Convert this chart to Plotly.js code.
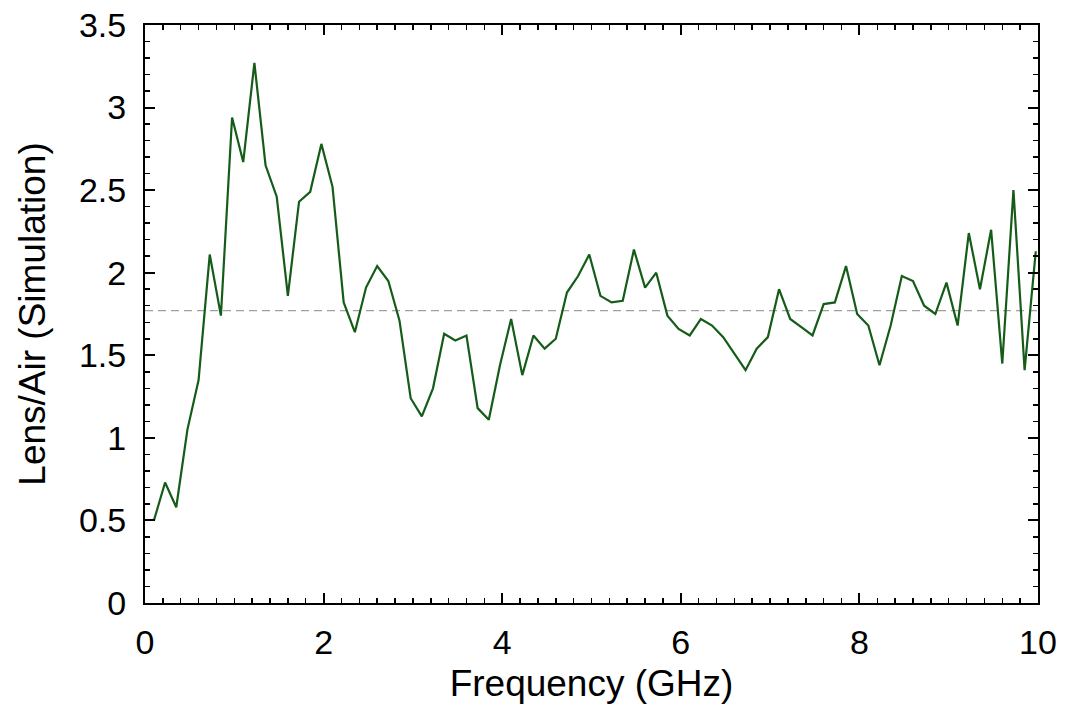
<!DOCTYPE html>
<html>
<head>
<meta charset="utf-8">
<script src="https://cdn.plot.ly/plotly-3.0.1.min.js"></script>
<style>html,body{margin:0;padding:0;background:#fff;}#chart{width:1075px;height:725px;}</style>
</head>
<body>
<div id="chart"></div>
<script>
const frequencyGHz = [
  0.1, 0.225, 0.35, 0.475, 0.6, 0.725, 0.85, 0.975, 1.1, 1.225,
  1.35, 1.475, 1.6, 1.725, 1.85, 1.975, 2.1, 2.225, 2.35, 2.475,
  2.6, 2.725, 2.85, 2.975, 3.1, 3.225, 3.35, 3.475, 3.6, 3.725,
  3.85, 3.975, 4.1, 4.225, 4.35, 4.475, 4.6, 4.725, 4.85, 4.975,
  5.1, 5.225, 5.35, 5.475, 5.6, 5.725, 5.85, 5.975, 6.1, 6.225,
  6.35, 6.475, 6.6, 6.725, 6.85, 6.975, 7.1, 7.225, 7.35, 7.475,
  7.6, 7.725, 7.85, 7.975, 8.1, 8.225, 8.35, 8.475, 8.6, 8.725,
  8.85, 8.975, 9.1, 9.225, 9.35, 9.475, 9.6, 9.725, 9.85, 9.975
];
const lensAirRatio = [
  0.50, 0.73, 0.58, 1.05, 1.35, 2.11, 1.74, 2.94, 2.67, 3.27,
  2.65, 2.46, 1.86, 2.43, 2.49, 2.78, 2.52, 1.82, 1.64, 1.91,
  2.04, 1.95, 1.71, 1.24, 1.13, 1.30, 1.63, 1.59, 1.62, 1.18,
  1.11, 1.44, 1.72, 1.38, 1.62, 1.54, 1.60, 1.88, 1.98, 2.11,
  1.86, 1.82, 1.83, 2.14, 1.91, 2.00, 1.74, 1.66, 1.62, 1.72,
  1.68, 1.61, 1.51, 1.41, 1.54, 1.61, 1.90, 1.72, 1.67, 1.62,
  1.81, 1.82, 2.04, 1.75, 1.68, 1.44, 1.68, 1.98, 1.95, 1.80,
  1.75, 1.94, 1.68, 2.24, 1.90, 2.26, 1.45, 2.50, 1.41, 2.13
];
const referenceLevel = 1.77;
const xRange = [0, 10];
const yRange = [0, 3.5];
const xTickVals = [0, 2, 4, 6, 8, 10];
const yTickVals = [0, 0.5, 1, 1.5, 2, 2.5, 3, 3.5];
const yTickText = ['0', '0.5', '1', '1.5', '2', '2.5', '3', '3.5'];

const family = 'Liberation Sans, Arial, sans-serif';
const tickFont = {family: family, size: 34, color: '#000'};
const titleFont = {family: family, size: 37, color: '#000'};

const traces = [
  {
    x: xRange, y: [referenceLevel, referenceLevel],
    mode: 'lines', type: 'scatter',
    line: {color: '#a0a0a0', width: 1.3, dash: '8px,5px'},
    hoverinfo: 'skip', showlegend: false
  },
  {
    x: frequencyGHz, y: lensAirRatio,
    mode: 'lines', type: 'scatter',
    line: {color: '#145c18', width: 2.2},
    showlegend: false
  }
];

const axisCommon = {
  showgrid: false, zeroline: false,
  showline: true, linecolor: '#000', linewidth: 2,
  mirror: 'allticks', ticks: 'inside', ticklen: 10, tickwidth: 2, tickcolor: '#000',
  tickfont: tickFont
};

const layout = {
  width: 1075, height: 725,
  margin: {l: 145, r: 37, t: 25, b: 122},
  paper_bgcolor: '#fff', plot_bgcolor: '#fff',
  font: tickFont,
  xaxis: Object.assign({}, axisCommon, {
    range: xRange, tickvals: xTickVals,
    ticklabelstandoff: 8,
    minor: {dtick: 0.2, ticks: 'inside', ticklen: 5, tickwidth: 1.5, tickcolor: '#000'},
    title: {text: 'Frequency (GHz)', font: titleFont, standoff: 10}
  }),
  yaxis: Object.assign({}, axisCommon, {
    range: yRange, tickvals: yTickVals, ticktext: yTickText,
    ticklabelstandoff: 10,
    minor: {dtick: 0.1, ticks: 'inside', ticklen: 5, tickwidth: 1.5, tickcolor: '#000'},
    title: {text: 'Lens/Air (Simulation)', font: titleFont, standoff: 22}
  })
};

Plotly.newPlot('chart', traces, layout, {displayModeBar: false, staticPlot: true});
</script>
</body>
</html>
